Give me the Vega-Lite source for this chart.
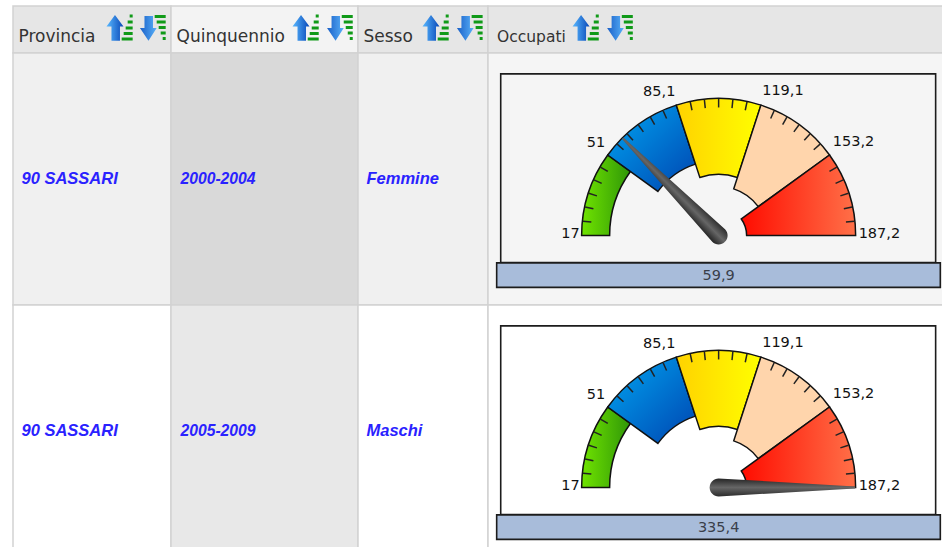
{"$schema":"https://vega.github.io/schema/vega-lite/v6.json","width":942,"height":547,"autosize":{"type":"fit","contains":"padding"},"padding":0,"background":"#ffffff","view":{"stroke":null},
"layer":[
{"data":{"values":[{"c0":0,"c1":1,"r0":0,"r1":1,"shade":"head"},{"c0":1,"c1":2,"r0":0,"r1":1,"shade":"headActive"},{"c0":2,"c1":3,"r0":0,"r1":1,"shade":"head"},{"c0":3,"c1":4.02,"r0":0,"r1":1,"shade":"head"},{"c0":0,"c1":1,"r0":1,"r1":2,"shade":"odd"},{"c0":1,"c1":2,"r0":1,"r1":2,"shade":"oddActive"},{"c0":2,"c1":3,"r0":1,"r1":2,"shade":"odd"},{"c0":3,"c1":4.02,"r0":1,"r1":2,"shade":"oddGauge"},{"c0":0,"c1":1,"r0":2,"r1":3,"shade":"even"},{"c0":1,"c1":2,"r0":2,"r1":3,"shade":"evenActive"},{"c0":2,"c1":3,"r0":2,"r1":3,"shade":"even"},{"c0":3,"c1":4.02,"r0":2,"r1":3,"shade":"even"}]},
"mark":{"type":"rect","stroke":"#d2d2d2","strokeWidth":1.5,"clip":true},
"encoding":{"x":{"field":"c0","type":"quantitative","axis":null,"scale":{"domain":[0,1,2,3,4],"range":[13,171,358,488,942],"nice":false}},"x2":{"field":"c1"},"y":{"field":"r0","type":"quantitative","axis":null,"scale":{"domain":[0,1,2,3],"range":[6,53,305,557],"nice":false}},"y2":{"field":"r1"},"color":{"field":"shade","type":"nominal","legend":null,"scale":{"domain":["head","headActive","odd","oddActive","oddGauge","even","evenActive"],"range":["#e6e6e6","#f3f3f3","#f0f0f0","#d9d9d9","#f5f5f5","#ffffff","#e8e8e8"]}}}},
{"data":{"values":[{"c0":3.028,"c1":3.986,"r0":1.083,"r1":1.832,"shade":"oddGauge"},{"c0":3.028,"c1":3.986,"r0":2.083,"r1":2.832,"shade":"even"}]},
"mark":{"type":"rect","stroke":"#1c1c1c","strokeWidth":1.6},
"encoding":{"x":{"field":"c0","type":"quantitative","axis":null,"scale":{"domain":[0,1,2,3,4],"range":[13,171,358,488,942],"nice":false}},"x2":{"field":"c1"},"y":{"field":"r0","type":"quantitative","axis":null,"scale":{"domain":[0,1,2,3],"range":[6,53,305,557],"nice":false}},"y2":{"field":"r1"},"color":{"field":"shade","type":"nominal","legend":null,"scale":{"domain":["head","headActive","odd","oddActive","oddGauge","even","evenActive"],"range":["#e6e6e6","#f3f3f3","#f0f0f0","#d9d9d9","#f5f5f5","#ffffff","#e8e8e8"]}}}},
{"data":{"values":[{"c0":3.0191,"c1":3.9963,"r0":1.833,"r1":1.93},{"c0":3.0191,"c1":3.9963,"r0":2.833,"r1":2.93}]},
"mark":{"type":"rect","fill":"#a8bcda","stroke":"#1c1c1c","strokeWidth":1.6},
"encoding":{"x":{"field":"c0","type":"quantitative","axis":null,"scale":{"domain":[0,1,2,3,4],"range":[13,171,358,488,942],"nice":false}},"x2":{"field":"c1"},"y":{"field":"r0","type":"quantitative","axis":null,"scale":{"domain":[0,1,2,3],"range":[6,53,305,557],"nice":false}},"y2":{"field":"r1"}}},
{"data":{"values":[{"from":17,"to":51,"col":3.508,"hub":[1.724,2.724]}]},"transform":[{"flatten":["hub"]}],
"mark":{"type":"arc","radius":137,"radius2":109,"stroke":"#111111","strokeWidth":1.5,"fill":{"gradient":"linear","x1":0,"y1":0,"x2":1,"y2":0,"stops":[{"offset":0,"color":"#70e400"},{"offset":1,"color":"#2f9608"}]}},
"encoding":{"x":{"field":"col","type":"quantitative","axis":null,"scale":{"domain":[0,1,2,3,4],"range":[13,171,358,488,942],"nice":false}},"y":{"field":"hub","type":"quantitative","axis":null,"scale":{"domain":[0,1,2,3],"range":[6,53,305,557],"nice":false}},"theta":{"field":"from","type":"quantitative","stack":null,"scale":{"domain":[17,187.2],"range":[-1.5708,1.5708]}},"theta2":{"field":"to"}}},
{"data":{"values":[{"from":51,"to":85.1,"col":3.508,"hub":[1.724,2.724]}]},"transform":[{"flatten":["hub"]}],
"mark":{"type":"arc","radius":137,"radius2":75,"stroke":"#111111","strokeWidth":1.5,"fill":{"gradient":"linear","x1":0,"y1":0,"x2":1,"y2":1,"stops":[{"offset":0,"color":"#00a6f2"},{"offset":1,"color":"#0044b0"}]}},
"encoding":{"x":{"field":"col","type":"quantitative","axis":null,"scale":{"domain":[0,1,2,3,4],"range":[13,171,358,488,942],"nice":false}},"y":{"field":"hub","type":"quantitative","axis":null,"scale":{"domain":[0,1,2,3],"range":[6,53,305,557],"nice":false}},"theta":{"field":"from","type":"quantitative","stack":null,"scale":{"domain":[17,187.2],"range":[-1.5708,1.5708]}},"theta2":{"field":"to"}}},
{"data":{"values":[{"from":85.1,"to":119.1,"col":3.508,"hub":[1.724,2.724]}]},"transform":[{"flatten":["hub"]}],
"mark":{"type":"arc","radius":137,"radius2":61,"stroke":"#111111","strokeWidth":1.5,"fill":{"gradient":"linear","x1":0,"y1":0,"x2":1,"y2":0,"stops":[{"offset":0,"color":"#ffd200"},{"offset":1,"color":"#ffff00"}]}},
"encoding":{"x":{"field":"col","type":"quantitative","axis":null,"scale":{"domain":[0,1,2,3,4],"range":[13,171,358,488,942],"nice":false}},"y":{"field":"hub","type":"quantitative","axis":null,"scale":{"domain":[0,1,2,3],"range":[6,53,305,557],"nice":false}},"theta":{"field":"from","type":"quantitative","stack":null,"scale":{"domain":[17,187.2],"range":[-1.5708,1.5708]}},"theta2":{"field":"to"}}},
{"data":{"values":[{"from":119.1,"to":153.2,"col":3.508,"hub":[1.724,2.724]}]},"transform":[{"flatten":["hub"]}],
"mark":{"type":"arc","radius":137,"radius2":49,"stroke":"#111111","strokeWidth":1.5,"fill":"#ffd5ac"},
"encoding":{"x":{"field":"col","type":"quantitative","axis":null,"scale":{"domain":[0,1,2,3,4],"range":[13,171,358,488,942],"nice":false}},"y":{"field":"hub","type":"quantitative","axis":null,"scale":{"domain":[0,1,2,3],"range":[6,53,305,557],"nice":false}},"theta":{"field":"from","type":"quantitative","stack":null,"scale":{"domain":[17,187.2],"range":[-1.5708,1.5708]}},"theta2":{"field":"to"}}},
{"data":{"values":[{"from":153.2,"to":187.2,"col":3.508,"hub":[1.724,2.724]}]},"transform":[{"flatten":["hub"]}],
"mark":{"type":"arc","radius":137,"radius2":28,"stroke":"#111111","strokeWidth":1.5,"fill":{"gradient":"linear","x1":0,"y1":0,"x2":1,"y2":0,"stops":[{"offset":0,"color":"#ff0c00"},{"offset":1,"color":"#ff7048"}]}},
"encoding":{"x":{"field":"col","type":"quantitative","axis":null,"scale":{"domain":[0,1,2,3,4],"range":[13,171,358,488,942],"nice":false}},"y":{"field":"hub","type":"quantitative","axis":null,"scale":{"domain":[0,1,2,3],"range":[6,53,305,557],"nice":false}},"theta":{"field":"from","type":"quantitative","stack":null,"scale":{"domain":[17,187.2],"range":[-1.5708,1.5708]}},"theta2":{"field":"to"}}},
{"data":{"values":[{"v":22.67},{"v":28.35},{"v":34.02},{"v":39.69},{"v":45.37},{"v":56.71},{"v":62.39},{"v":68.06},{"v":73.73},{"v":79.41},{"v":90.75},{"v":96.43},{"v":102.1},{"v":107.77},{"v":113.45},{"v":124.79},{"v":130.47},{"v":136.14},{"v":141.81},{"v":147.49},{"v":158.83},{"v":164.51},{"v":170.18},{"v":175.85},{"v":181.53}]},
"mark":{"type":"point","filled":false,"size":4,"shape":"M0,-136.5L0,-128","stroke":"#222222","strokeWidth":1.5,"opacity":1},
"encoding":{"x":{"datum":3.508,"type":"quantitative","axis":null,"scale":{"domain":[0,1,2,3,4],"range":[13,171,358,488,942],"nice":false}},"y":{"datum":1.724,"type":"quantitative","axis":null,"scale":{"domain":[0,1,2,3],"range":[6,53,305,557],"nice":false}},"angle":{"field":"v","type":"quantitative","scale":{"domain":[17,187.2],"range":[-90,90],"clamp":true}}}},
{"data":{"values":[{"v":22.67},{"v":28.35},{"v":34.02},{"v":39.69},{"v":45.37},{"v":56.71},{"v":62.39},{"v":68.06},{"v":73.73},{"v":79.41},{"v":90.75},{"v":96.43},{"v":102.1},{"v":107.77},{"v":113.45},{"v":124.79},{"v":130.47},{"v":136.14},{"v":141.81},{"v":147.49},{"v":158.83},{"v":164.51},{"v":170.18},{"v":175.85},{"v":181.53}]},
"mark":{"type":"point","filled":false,"size":4,"shape":"M0,-136.5L0,-128","stroke":"#222222","strokeWidth":1.5,"opacity":1},
"encoding":{"x":{"datum":3.508,"type":"quantitative","axis":null,"scale":{"domain":[0,1,2,3,4],"range":[13,171,358,488,942],"nice":false}},"y":{"datum":2.724,"type":"quantitative","axis":null,"scale":{"domain":[0,1,2,3],"range":[6,53,305,557],"nice":false}},"angle":{"field":"v","type":"quantitative","scale":{"domain":[17,187.2],"range":[-90,90],"clamp":true}}}},
{"data":{"values":[{"value":51,"label":"51","col":3.508,"hub":[1.724,2.724]},{"value":85.1,"label":"85,1","col":3.508,"hub":[1.724,2.724]}]},"transform":[{"flatten":["hub"]}],
"mark":{"type":"text","radius":140,"align":"right","baseline":"middle","dy":-10.5,"font":"DejaVu Sans","fontSize":14.5,"fill":"#111111"},
"encoding":{"x":{"field":"col","type":"quantitative","axis":null,"scale":{"domain":[0,1,2,3,4],"range":[13,171,358,488,942],"nice":false}},"y":{"field":"hub","type":"quantitative","axis":null,"scale":{"domain":[0,1,2,3],"range":[6,53,305,557],"nice":false}},"theta":{"field":"value","type":"quantitative","stack":null,"scale":{"domain":[17,187.2],"range":[-1.5708,1.5708]}},"text":{"field":"label"}}},
{"data":{"values":[{"value":119.1,"label":"119,1","col":3.508,"hub":[1.724,2.724]},{"value":153.2,"label":"153,2","col":3.508,"hub":[1.724,2.724]}]},"transform":[{"flatten":["hub"]}],
"mark":{"type":"text","radius":141,"align":"left","baseline":"middle","dy":-10.5,"font":"DejaVu Sans","fontSize":14.5,"fill":"#111111"},
"encoding":{"x":{"field":"col","type":"quantitative","axis":null,"scale":{"domain":[0,1,2,3,4],"range":[13,171,358,488,942],"nice":false}},"y":{"field":"hub","type":"quantitative","axis":null,"scale":{"domain":[0,1,2,3],"range":[6,53,305,557],"nice":false}},"theta":{"field":"value","type":"quantitative","stack":null,"scale":{"domain":[17,187.2],"range":[-1.5708,1.5708]}},"text":{"field":"label"}}},
{"data":{"values":[{"value":17,"label":"17","col":3.508,"hub":[1.724,2.724]}]},"transform":[{"flatten":["hub"]}],
"mark":{"type":"text","radius":139,"align":"right","baseline":"middle","dy":-1.5,"font":"DejaVu Sans","fontSize":14.5,"fill":"#111111"},
"encoding":{"x":{"field":"col","type":"quantitative","axis":null,"scale":{"domain":[0,1,2,3,4],"range":[13,171,358,488,942],"nice":false}},"y":{"field":"hub","type":"quantitative","axis":null,"scale":{"domain":[0,1,2,3],"range":[6,53,305,557],"nice":false}},"theta":{"field":"value","type":"quantitative","stack":null,"scale":{"domain":[17,187.2],"range":[-1.5708,1.5708]}},"text":{"field":"label"}}},
{"data":{"values":[{"value":187.2,"label":"187,2","col":3.508,"hub":[1.724,2.724]}]},"transform":[{"flatten":["hub"]}],
"mark":{"type":"text","radius":140,"align":"left","baseline":"middle","dy":-1.5,"font":"DejaVu Sans","fontSize":14.5,"fill":"#111111"},
"encoding":{"x":{"field":"col","type":"quantitative","axis":null,"scale":{"domain":[0,1,2,3,4],"range":[13,171,358,488,942],"nice":false}},"y":{"field":"hub","type":"quantitative","axis":null,"scale":{"domain":[0,1,2,3],"range":[6,53,305,557],"nice":false}},"theta":{"field":"value","type":"quantitative","stack":null,"scale":{"domain":[17,187.2],"range":[-1.5708,1.5708]}},"text":{"field":"label"}}},
{"data":{"values":[{"value":59.9,"col":3.508,"hub":1.724},{"value":335.4,"col":3.508,"hub":2.724}]},
"mark":{"type":"point","filled":true,"opacity":1,"size":4,"shape":"M-9,0L-1,-136.5L1,-136.5L9,0A9,9 0 0 1 -9,0Z","fill":{"gradient":"linear","x1":0,"y1":0,"x2":1,"y2":0,"stops":[{"offset":0,"color":"#242424"},{"offset":0.5,"color":"#666666"},{"offset":1,"color":"#2c2c2c"}]}},
"encoding":{"x":{"field":"col","type":"quantitative","axis":null,"scale":{"domain":[0,1,2,3,4],"range":[13,171,358,488,942],"nice":false}},"y":{"field":"hub","type":"quantitative","axis":null,"scale":{"domain":[0,1,2,3],"range":[6,53,305,557],"nice":false}},"angle":{"field":"value","type":"quantitative","scale":{"domain":[17,187.2],"range":[-90,90],"clamp":true}}}},
{"data":{"values":[{"col":3.508,"r":1.885,"label":"59,9"},{"col":3.508,"r":2.885,"label":"335,4"}]},
"mark":{"type":"text","align":"center","baseline":"middle","font":"DejaVu Sans","fontSize":14.5,"fill":"#3a3f4a"},
"encoding":{"x":{"field":"col","type":"quantitative","axis":null,"scale":{"domain":[0,1,2,3,4],"range":[13,171,358,488,942],"nice":false}},"y":{"field":"r","type":"quantitative","axis":null,"scale":{"domain":[0,1,2,3],"range":[6,53,305,557],"nice":false}},"text":{"field":"label"}}},
{"data":{"values":[{"col":0,"r":1.5,"label":"90 SASSARI"},{"col":0,"r":2.5,"label":"90 SASSARI"},{"col":2,"r":1.5,"label":"Femmine"},{"col":2,"r":2.5,"label":"Maschi"}]},
"mark":{"type":"text","align":"left","baseline":"middle","dx":8.5,"font":"Liberation Sans","fontWeight":"bold","fontStyle":"italic","fontSize":16.5,"fill":"#2a22ff"},
"encoding":{"x":{"field":"col","type":"quantitative","axis":null,"scale":{"domain":[0,1,2,3,4],"range":[13,171,358,488,942],"nice":false}},"y":{"field":"r","type":"quantitative","axis":null,"scale":{"domain":[0,1,2,3],"range":[6,53,305,557],"nice":false}},"text":{"field":"label"}}},
{"data":{"values":[{"col":1,"r":1.5,"label":"2000-2004"},{"col":1,"r":2.5,"label":"2005-2009"}]},
"mark":{"type":"text","align":"left","baseline":"middle","dx":9.5,"font":"Liberation Sans","fontWeight":"bold","fontStyle":"italic","fontSize":15.7,"fill":"#2a22ff"},
"encoding":{"x":{"field":"col","type":"quantitative","axis":null,"scale":{"domain":[0,1,2,3,4],"range":[13,171,358,488,942],"nice":false}},"y":{"field":"r","type":"quantitative","axis":null,"scale":{"domain":[0,1,2,3],"range":[6,53,305,557],"nice":false}},"text":{"field":"label"}}},
{"data":{"values":[{"col":0,"r":0.66,"label":"Provincia"},{"col":1,"r":0.66,"label":"Quinquennio"},{"col":2,"r":0.66,"label":"Sesso"}]},
"mark":{"type":"text","align":"left","baseline":"middle","dx":5.5,"font":"DejaVu Sans","fontSize":17,"fill":"#333333"},
"encoding":{"x":{"field":"col","type":"quantitative","axis":null,"scale":{"domain":[0,1,2,3,4],"range":[13,171,358,488,942],"nice":false}},"y":{"field":"r","type":"quantitative","axis":null,"scale":{"domain":[0,1,2,3],"range":[6,53,305,557],"nice":false}},"text":{"field":"label"}}},
{"data":{"values":[{"col":3,"r":0.66,"label":"Occupati"}]},
"mark":{"type":"text","align":"left","baseline":"middle","dx":9,"font":"DejaVu Sans","fontSize":15.5,"fill":"#333333"},
"encoding":{"x":{"field":"col","type":"quantitative","axis":null,"scale":{"domain":[0,1,2,3,4],"range":[13,171,358,488,942],"nice":false}},"y":{"field":"r","type":"quantitative","axis":null,"scale":{"domain":[0,1,2,3],"range":[6,53,305,557],"nice":false}},"text":{"field":"label"}}},
{"data":{"values":[{"col":0.677,"r":0.468},{"col":1.722,"r":0.468},{"col":2.6,"r":0.468},{"col":3.216,"r":0.468}]},
"mark":{"type":"point","filled":true,"opacity":1,"size":4,"shape":"M-5,-13L3.5,-1.5L0,-1.5L0,12.7L-8.5,12.7L-8.5,-1.5L-13.5,-1.5Z","fill":{"gradient":"linear","x1":0,"y1":0,"x2":1,"y2":0,"stops":[{"offset":0,"color":"#58b8ff"},{"offset":1,"color":"#0a48b8"}]}},
"encoding":{"x":{"field":"col","type":"quantitative","axis":null,"scale":{"domain":[0,1,2,3,4],"range":[13,171,358,488,942],"nice":false}},"y":{"field":"r","type":"quantitative","axis":null,"scale":{"domain":[0,1,2,3],"range":[6,53,305,557],"nice":false}}}},
{"data":{"values":[{"col":0.677,"r":0.468},{"col":1.722,"r":0.468},{"col":2.6,"r":0.468},{"col":3.216,"r":0.468}]},
"mark":{"type":"point","filled":true,"opacity":1,"size":4,"shape":"M9.7,-13.5h3v3h-3ZM7.7,-7.5h5v3h-5ZM5.7,-1.5h7v3h-7ZM3.7,4h9v3h-9ZM1.7,9.5h11v3h-11Z","fill":"#109a18"},
"encoding":{"x":{"field":"col","type":"quantitative","axis":null,"scale":{"domain":[0,1,2,3,4],"range":[13,171,358,488,942],"nice":false}},"y":{"field":"r","type":"quantitative","axis":null,"scale":{"domain":[0,1,2,3],"range":[6,53,305,557],"nice":false}}}},
{"data":{"values":[{"col":0.886,"r":0.468},{"col":1.904,"r":0.468},{"col":2.861,"r":0.468},{"col":3.291,"r":0.468}]},
"mark":{"type":"point","filled":true,"opacity":1,"size":4,"shape":"M-8.5,-12L0,-12L0,0L3.7,0L-4.5,12.7L-13,0L-8.5,0Z","fill":{"gradient":"linear","x1":0,"y1":0,"x2":1,"y2":0,"stops":[{"offset":0,"color":"#1a60c8"},{"offset":1,"color":"#58b0f8"}]}},
"encoding":{"x":{"field":"col","type":"quantitative","axis":null,"scale":{"domain":[0,1,2,3,4],"range":[13,171,358,488,942],"nice":false}},"y":{"field":"r","type":"quantitative","axis":null,"scale":{"domain":[0,1,2,3],"range":[6,53,305,557],"nice":false}}}},
{"data":{"values":[{"col":0.886,"r":0.468},{"col":1.904,"r":0.468},{"col":2.861,"r":0.468},{"col":3.291,"r":0.468}]},
"mark":{"type":"point","filled":true,"opacity":1,"size":4,"shape":"M1.7,-13h11v3h-11ZM3.7,-7.5h9v3h-9ZM5.7,-2h7v3h-7ZM7.7,3.5h5v3h-5ZM9.7,9h3v3h-3Z","fill":"#109a18"},
"encoding":{"x":{"field":"col","type":"quantitative","axis":null,"scale":{"domain":[0,1,2,3,4],"range":[13,171,358,488,942],"nice":false}},"y":{"field":"r","type":"quantitative","axis":null,"scale":{"domain":[0,1,2,3],"range":[6,53,305,557],"nice":false}}}}
]}
